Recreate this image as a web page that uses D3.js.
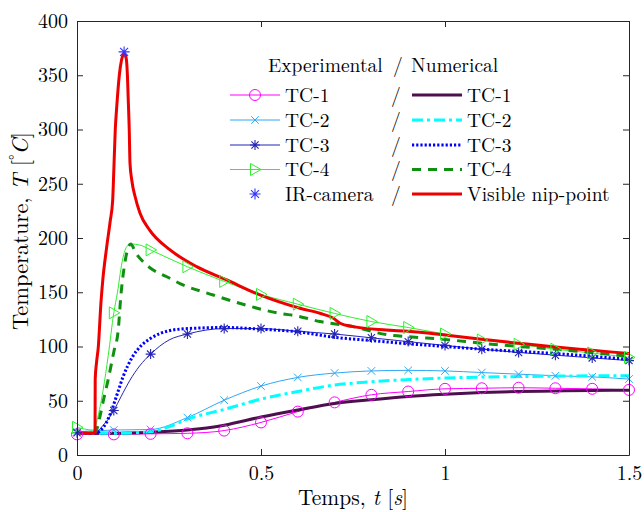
<!DOCTYPE html>
<html>
<head>
<meta charset="utf-8">
<script src="https://cdn.jsdelivr.net/npm/d3@7"></script>
<style>
  html, body { margin: 0; padding: 0; background: #ffffff; }
  svg { display: block; }
</style>
</head>
<body>
<div id="chart"></div>
<script>
// ---------------- DATA ----------------
const xTicks = [0, 0.5, 1, 1.5];
const xTickLabels = ["0", "0.5", "1", "1.5"];
const yTicks = [0, 50, 100, 150, 200, 250, 300, 350, 400];

// experimental marker times
const expTime = [0, 0.1, 0.2, 0.3, 0.4, 0.5, 0.6, 0.7, 0.8, 0.9, 1.0, 1.1, 1.2, 1.3, 1.4, 1.5];
const tc1Exp = [19, 19, 19.5, 20, 22.5, 30, 40, 48.5, 55.5, 58.5, 61, 61.5, 62, 61.5, 61, 60];
const tc2Exp = [21.5, 23, 23.5, 34.5, 50.5, 63.5, 71.5, 75.5, 77.5, 78, 77.5, 76, 74.5, 73, 72, 70];
const tc3Exp = [20.5, 41, 93, 111.5, 116.5, 116.5, 114, 111.5, 108, 104.5, 101, 97.5, 94.5, 92, 89.5, 87];
const tc4Exp = [25.5, 131, 189, 173.5, 160, 148, 139, 130.5, 123, 117.5, 111.5, 106, 102, 97.5, 94, 90];

// experimental lines (denser where the signal changes fast)
const tc3ExpLineT = [0, 0.05, 0.07, 0.085, 0.1, 0.12, 0.144, 0.17, 0.2, 0.25, 0.3, 0.4, 0.5, 0.6, 0.7, 0.8, 0.9, 1.0, 1.1, 1.2, 1.3, 1.4, 1.5];
const tc3ExpLineV = [20.5, 20.5, 27, 33, 41, 54, 69, 82, 93, 106, 111.5, 116.5, 116.5, 114, 111.5, 108, 104.5, 101, 97.5, 94.5, 92, 89.5, 87];
const tc4ExpLineT = [0, 0.044, 0.058, 0.071, 0.085, 0.1, 0.11, 0.122, 0.135, 0.146, 0.171, 0.2, 0.3, 0.4, 0.5, 0.6, 0.7, 0.8, 0.9, 1.0, 1.1, 1.2, 1.3, 1.4, 1.5];
const tc4ExpLineV = [25.5, 23, 37, 60, 92, 131, 150, 177, 192, 194.5, 193.5, 189, 173.5, 160, 148, 139, 130.5, 123, 117.5, 111.5, 106, 102, 97.5, 94, 90];

// numerical results
const tc1NumT = [0, 0.1, 0.2, 0.3, 0.4, 0.5, 0.6, 0.7, 0.8, 0.9, 1.0, 1.1, 1.2, 1.3, 1.4, 1.5];
const tc1NumV = [20, 20, 21, 23, 27.5, 35, 41.5, 47.5, 51, 54, 56, 57.5, 58.5, 59, 59.5, 59.6];
const tc2NumT = [0, 0.1, 0.2, 0.25, 0.3, 0.4, 0.5, 0.6, 0.7, 0.8, 0.9, 1.0, 1.1, 1.2, 1.3, 1.4, 1.5];
const tc2NumV = [20, 20, 21.5, 26, 33, 42, 51.5, 58.5, 64.5, 67.5, 69.5, 71, 71.8, 72.3, 72.7, 73, 73];
const tc3NumT = [0, 0.05, 0.065, 0.08, 0.095, 0.11, 0.125, 0.15, 0.175, 0.2, 0.25, 0.3, 0.4, 0.5, 0.6, 0.7, 0.8, 0.9, 1.0, 1.1, 1.2, 1.3, 1.4, 1.5];
const tc3NumV = [20, 20, 23, 30, 42, 57, 72, 90, 101, 107.5, 114.5, 116.5, 117.5, 116, 113.5, 108.5, 105.5, 102.5, 100, 97.5, 95.5, 93.5, 91, 88];
const tc4NumT = [0, 0.05, 0.062, 0.072, 0.085, 0.1, 0.112, 0.119, 0.13, 0.146, 0.16, 0.18, 0.207, 0.244, 0.28, 0.37, 0.46, 0.55, 0.6, 0.66, 0.75, 0.84, 0.9, 1.0, 1.1, 1.2, 1.3, 1.4, 1.5];
const tc4NumV = [20, 21, 35, 50.7, 70, 95, 115, 146, 177, 194.5, 186, 178, 170.5, 164.3, 158, 147.5, 138, 130.6, 128, 123, 118.3, 111, 109, 106.5, 103, 100, 97.5, 94.3, 91];
const nipT = [0, 0.049, 0.0495, 0.053, 0.058, 0.065, 0.07, 0.08, 0.09, 0.097, 0.1, 0.104, 0.108, 0.115, 0.121, 0.128, 0.133, 0.137, 0.139, 0.142, 0.144, 0.149, 0.158, 0.171, 0.198, 0.253, 0.325, 0.407, 0.497, 0.606, 0.66, 0.697, 0.715, 0.75, 0.84, 0.9, 1.0, 1.1, 1.2, 1.3, 1.4, 1.5];
const nipV = [20, 20, 70, 85, 100, 140, 161, 190, 215, 235, 262, 300, 321, 350, 364, 370, 367, 350, 330, 299.5, 269, 253, 238, 223, 207, 189, 173.6, 161.3, 147.5, 135.2, 130.6, 126, 121.4, 118.3, 115.2, 114, 110.5, 106.6, 103, 99.5, 96.5, 93.5];
const irT = [0.128];
const irV = [371.5];

const legendHeader = ["Experimental", "/", "Numerical"];
const legendNames = ["TC-1", "TC-2", "TC-3", "TC-4", "IR-camera"];
const legendNumNames = ["TC-1", "TC-2", "TC-3", "TC-4", "Visible nip-point"];

// ---------------- CHART ----------------
const FONT = '"Latin Modern Roman", "CMU Serif", "Liberation Serif", serif';
const W = 644, H = 512;
const svg = d3.select("#chart").append("svg").attr("width", W).attr("height", H);

const x = d3.scaleLinear().domain([0, 1.5]).range([77, 629]);
const y = d3.scaleLinear().domain([0, 400]).range([455, 21]);

svg.append("defs").append("clipPath").attr("id", "clip")
  .append("rect").attr("x", 77).attr("y", 21).attr("width", 552).attr("height", 434);

const zip = (ts, vs) => ts.map((t, i) => [t, vs[i]]);
const line = d3.line().x(d => x(d[0])).y(d => y(d[1])).curve(d3.curveMonotoneX);

const C = {
  tc1e: "#ff00ff", tc2e: "#2fa8f5", tc3e: "#2525b5", tc4e: "#30ee30",
  tc1n: "#4e0f4e", tc2n: "#00ffff", tc3n: "#0000ff", tc4n: "#109010",
  nip: "#ee0000", ir: "#3333ff"
};

function circleM(g, cx, cy, col) {
  g.append("circle").attr("cx", cx).attr("cy", cy).attr("r", 5.5)
    .attr("fill", "none").attr("stroke", col).attr("stroke-width", 1);
}
function xM(g, cx, cy, col) {
  const s = 3.8;
  g.append("path").attr("d", `M${cx - s},${cy - s}L${cx + s},${cy + s}M${cx - s},${cy + s}L${cx + s},${cy - s}`)
    .attr("stroke", col).attr("stroke-width", 1).attr("fill", "none");
}
function starM(g, cx, cy, col, s) {
  const d = s * 0.72;
  g.append("path").attr("d",
    `M${cx - s},${cy}L${cx + s},${cy}M${cx},${cy - s}L${cx},${cy + s}M${cx - d},${cy - d}L${cx + d},${cy + d}M${cx - d},${cy + d}L${cx + d},${cy - d}`)
    .attr("stroke", col).attr("stroke-width", 1.1).attr("fill", "none");
}
function triM(g, cx, cy, col) {
  g.append("path").attr("d", `M${cx - 4.5},${cy - 6}L${cx - 4.5},${cy + 6}L${cx + 6},${cy}Z`)
    .attr("stroke", col).attr("stroke-width", 1).attr("fill", "none");
}

const plot = svg.append("g").attr("clip-path", "url(#clip)");

const expLines = [
  { pts: zip(expTime, tc1Exp), col: C.tc1e },
  { pts: zip(expTime, tc2Exp), col: C.tc2e },
  { pts: zip(tc3ExpLineT, tc3ExpLineV), col: C.tc3e },
  { pts: zip(tc4ExpLineT, tc4ExpLineV), col: C.tc4e }
];
expLines.forEach(s => {
  plot.append("path").attr("d", line(s.pts)).attr("fill", "none")
    .attr("stroke", s.col).attr("stroke-width", 1);
});

const numLines = [
  { pts: zip(tc1NumT, tc1NumV), col: C.tc1n, dash: null },
  { pts: zip(tc2NumT, tc2NumV), col: C.tc2n, dash: "11,4,3,4" },
  { pts: zip(tc3NumT, tc3NumV), col: C.tc3n, dash: "2.2,2" },
  { pts: zip(tc4NumT, tc4NumV), col: C.tc4n, dash: "9,7" },
  { pts: zip(nipT, nipV), col: C.nip, dash: null }
];
numLines.forEach(s => {
  const p = plot.append("path").attr("d", line(s.pts)).attr("fill", "none")
    .attr("stroke", s.col).attr("stroke-width", 3).attr("stroke-linejoin", "round");
  if (s.dash) p.attr("stroke-dasharray", s.dash);
});

const mk = svg.append("g");
expTime.forEach((t, i) => circleM(mk, x(t), y(tc1Exp[i]), C.tc1e));
expTime.forEach((t, i) => xM(mk, x(t), y(tc2Exp[i]), C.tc2e));
expTime.forEach((t, i) => starM(mk, x(t), y(tc3Exp[i]), C.tc3e, 5));
expTime.forEach((t, i) => triM(mk, x(t), y(tc4Exp[i]), C.tc4e));
irT.forEach((t, i) => starM(mk, x(t), y(irV[i]), C.ir, 5.5));

// axes (ticks inward, box)
const axCol = "#262626";
const gL = svg.append("g").attr("transform", "translate(77,0)")
  .call(d3.axisLeft(y).tickValues(yTicks).tickSize(-6).tickSizeOuter(0).tickPadding(9).tickFormat(d3.format("d")));
const gB = svg.append("g").attr("transform", "translate(0,455)")
  .call(d3.axisBottom(x).tickValues(xTicks).tickSize(-6).tickSizeOuter(0).tickPadding(11)
    .tickFormat((d, i) => xTickLabels[i]));
const gT = svg.append("g").attr("transform", "translate(0,21)")
  .call(d3.axisTop(x).tickValues(xTicks).tickSize(-6).tickSizeOuter(0).tickFormat(""));
const gR = svg.append("g").attr("transform", "translate(629,0)")
  .call(d3.axisRight(y).tickValues(yTicks).tickSize(-6).tickSizeOuter(0).tickFormat(""));
[gL, gB, gT, gR].forEach(g => {
  g.attr("font-family", null);
  g.selectAll("path.domain").attr("stroke", axCol).attr("stroke-width", 1);
  g.selectAll(".tick line").attr("stroke", axCol).attr("stroke-width", 1);
  g.selectAll("text").style("font-family", FONT).attr("font-size", 20).attr("fill", "#000");
});

// axis labels
const xl = svg.append("text").attr("x", 353).attr("y", 505).attr("text-anchor", "middle")
  .style("font-family", FONT).attr("font-size", 21.5);
xl.append("tspan").text("Temps, ");
xl.append("tspan").attr("font-style", "italic").text("t");
xl.append("tspan").text(" [");
xl.append("tspan").attr("font-style", "italic").text("s");
xl.append("tspan").text("]");

const yl = svg.append("text").attr("transform", "translate(28,231) rotate(-90)")
  .attr("text-anchor", "middle").style("font-family", FONT).attr("font-size", 22.5);
yl.append("tspan").text("Temperature, ");
yl.append("tspan").attr("font-style", "italic").text("T");
yl.append("tspan").text(" [");
yl.append("tspan").attr("font-size", 15).attr("dy", -8).text("°");
yl.append("tspan").attr("font-style", "italic").attr("dy", 8).text("C");
yl.append("tspan").text("]");

// legend
const lg = svg.append("g");
const lt = (xx, yy, s, anchor) => lg.append("text").attr("x", xx).attr("y", yy)
  .attr("text-anchor", anchor || "start").style("font-family", FONT).attr("font-size", 19.5).text(s);
lt(268, 72, legendHeader[0]);
lt(398, 72, legendHeader[1], "middle");
lt(411, 72, legendHeader[2]);

const rowY = [95, 120, 145, 169.5, 194];
const expStyles = [
  { col: C.tc1e, m: (g, cx, cy) => circleM(g, cx, cy, C.tc1e), line: true },
  { col: C.tc2e, m: (g, cx, cy) => xM(g, cx, cy, C.tc2e), line: true },
  { col: C.tc3e, m: (g, cx, cy) => starM(g, cx, cy, C.tc3e, 5), line: true },
  { col: C.tc4e, m: (g, cx, cy) => triM(g, cx, cy, C.tc4e), line: true },
  { col: C.ir, m: (g, cx, cy) => starM(g, cx, cy, C.ir, 5.5), line: false }
];
rowY.forEach((ry, i) => {
  const es = expStyles[i];
  if (es.line) lg.append("line").attr("x1", 230).attr("x2", 280).attr("y1", ry).attr("y2", ry)
    .attr("stroke", es.col).attr("stroke-width", 1);
  es.m(lg, 255, ry);
  lt(285, ry + 6.5, legendNames[i]);
  lt(396, ry + 6.5, "/", "middle");
  const ns = numLines[i];
  const l = lg.append("line").attr("x1", 412).attr("x2", 462).attr("y1", ry).attr("y2", ry)
    .attr("stroke", ns.col).attr("stroke-width", 3);
  if (ns.dash) l.attr("stroke-dasharray", ns.dash);
  lt(467, ry + 6.5, legendNumNames[i]);
});
</script>
</body>
</html>
